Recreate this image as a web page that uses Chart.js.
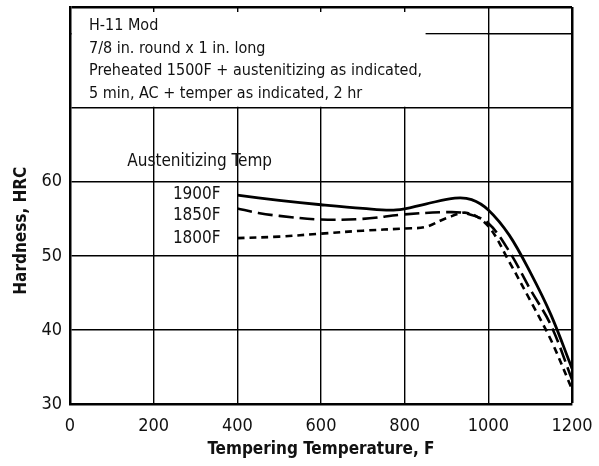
<!DOCTYPE html>
<html lang="en">
<head>
    <meta charset="UTF-8">
    <title>H-11 Mod tempering curves</title>
    <style>
        body {
            margin: 0;
            background: #fff;
        }
        .chart-container {
            width: 599px;
            height: 466px;
        }
    </style>
</head>
<body>
    <div class="chart-container">
        <canvas id="hardnessChart"></canvas>
    </div>

    <script src="https://cdn.jsdelivr.net/npm/chart.js"></script>

    <script>
        // Tempering temperature (F) and hardness (HRC)
        const temps1900 = [400, 500, 600, 700, 780, 850, 920, 960, 1000, 1050, 1100, 1150, 1200];
        const hrc1900   = [58.2, 57.5, 56.9, 56.4, 56.2, 57.0, 57.8, 57.6, 56.2, 52.8, 47.8, 42.0, 34.8];

        const temps1850 = [400, 450, 500, 600, 700, 800, 900, 950, 1000, 1050, 1100, 1150, 1200];
        const hrc1850   = [56.4, 55.8, 55.4, 54.9, 55.0, 55.6, 55.9, 55.7, 54.4, 50.6, 45.5, 40.6, 33.3];

        const temps1800 = [400, 500, 600, 700, 800, 850, 900, 950, 1000, 1050, 1100, 1150, 1200];
        const hrc1800   = [52.4, 52.6, 53.0, 53.4, 53.7, 53.9, 55.1, 55.8, 54.0, 49.2, 44.0, 38.6, 32.0];

        const seriesLabels = ['1900F', '1850F', '1800F'];
        const xTicks = [0, 200, 400, 600, 800, 1000, 1200];
        const yTicks = [30, 40, 50, 60, 70, 80, 83.6];

        const headerLines = [
            'H-11 Mod',
            '7/8 in. round x 1 in. long',
            'Preheated 1500F + austenitizing as indicated,',
            '5 min, AC + temper as indicated, 2 hr'
        ];

        const FONT = "'Liberation Sans Narrow', 'DejaVu Sans Condensed', Arial, sans-serif";

        function toPoints(xs, ys) {
            return xs.map((x, i) => ({ x: x, y: ys[i] }));
        }

        function noPadding(s) {
            s.paddingTop = 0;
            s.paddingBottom = 0;
            s.paddingLeft = 0;
            s.paddingRight = 0;
        }

        // white out most of the note box above 70 HRC and write the labels
        const notesPlugin = {
            id: 'notes',
            beforeDatasetsDraw(chart) {
                const ctx = chart.ctx;
                const area = chart.chartArea;
                const xs = chart.scales.x;
                const ys = chart.scales.y;
                const y70 = ys.getPixelForValue(70);
                const y80 = ys.getPixelForValue(80);
                const x1000 = xs.getPixelForValue(1000);
                const x850 = xs.getPixelForValue(850);
                ctx.save();
                ctx.fillStyle = '#fff';
                ctx.fillRect(area.left + 2, area.top + 5, x1000 - area.left - 3, y80 - area.top - 6);
                ctx.fillRect(area.left + 2, y80 + 1, x1000 - area.left - 3, y70 - y80 - 2);
                ctx.fillRect(area.left + 2, y80 - 2, x850 - area.left - 2, 4);
                ctx.restore();
            },
            afterDraw(chart) {
                const ctx = chart.ctx;
                const area = chart.chartArea;
                const xs = chart.scales.x;
                const ys = chart.scales.y;
                ctx.save();
                ctx.fillStyle = '#111';
                ctx.textBaseline = 'alphabetic';
                ctx.font = '16px ' + FONT;
                ctx.textAlign = 'left';
                headerLines.forEach((line, i) => {
                    ctx.fillText(line, area.left + 19, 30 + i * 22.5);
                });

                ctx.font = '17px ' + FONT;
                ctx.textBaseline = 'middle';
                ctx.textAlign = 'center';
                ctx.fillText('Austenitizing Temp', xs.getPixelForValue(310), ys.getPixelForValue(62.7));

                ctx.textAlign = 'right';
                const labelY = [58.3, 55.4, 52.4];
                seriesLabels.forEach((lab, i) => {
                    ctx.fillText(lab, xs.getPixelForValue(360), ys.getPixelForValue(labelY[i]));
                });

                // y axis title sits a bit below the middle in the original
                ctx.font = 'bold 17px ' + FONT;
                ctx.textAlign = 'center';
                ctx.translate(22, ys.getPixelForValue(53.4));
                ctx.rotate(-Math.PI / 2);
                ctx.fillText('Hardness, HRC', 0, 0);
                ctx.restore();
            }
        };

        const ctx = document.getElementById('hardnessChart').getContext('2d');

        new Chart(ctx, {
            type: 'line',
            data: {
                datasets: [{
                    label: seriesLabels[0],
                    data: toPoints(temps1900, hrc1900),
                    borderColor: '#000',
                    borderWidth: 2.8
                }, {
                    label: seriesLabels[1],
                    data: toPoints(temps1850, hrc1850),
                    borderColor: '#000',
                    borderWidth: 2.6,
                    borderDash: [15, 6]
                }, {
                    label: seriesLabels[2],
                    data: toPoints(temps1800, hrc1800),
                    borderColor: '#000',
                    borderWidth: 2.6,
                    borderDash: [7, 5]
                }]
            },
            options: {
                responsive: true,
                maintainAspectRatio: false,
                animation: false,
                layout: {
                    padding: { left: 0, right: 27, top: 7, bottom: 0 }
                },
                elements: {
                    point: { radius: 0 },
                    line: { tension: 0.35, fill: false }
                },
                plugins: {
                    legend: { display: false },
                    tooltip: { enabled: false }
                },
                scales: {
                    x: {
                        type: 'linear',
                        min: 0,
                        max: 1200,
                        afterBuildTicks: s => { s.ticks = xTicks.map(v => ({ value: v })); },
                        afterFit: s => { s.height = 62; noPadding(s); },
                        ticks: {
                            color: '#111',
                            font: { family: FONT, size: 18 },
                            padding: 12,
                            maxRotation: 0,
                            callback: v => String(v)
                        },
                        grid: {
                            color: '#000',
                            lineWidth: c => (c.tick && c.tick.value === 1200 ? 2.5 : 1.4),
                            drawTicks: false
                        },
                        border: { color: '#000', width: 2.5 },
                        title: {
                            display: true,
                            text: 'Tempering Temperature, F',
                            color: '#111',
                            font: { family: FONT, size: 17, weight: 'bold' },
                            padding: { top: 0, bottom: 6 }
                        }
                    },
                    y: {
                        type: 'linear',
                        min: 30,
                        max: 83.6,
                        afterBuildTicks: s => { s.ticks = yTicks.map(v => ({ value: v })); },
                        afterFit: s => { s.width = 70; noPadding(s); },
                        ticks: {
                            color: '#111',
                            font: { family: FONT, size: 18 },
                            padding: 8,
                            callback: v => (v <= 60 ? String(v) : '')
                        },
                        grid: {
                            color: '#000',
                            lineWidth: c => (c.tick && c.tick.value === 83.6 ? 2.5 : 1.4),
                            drawTicks: false
                        },
                        border: { color: '#000', width: 2.5 }
                    }
                }
            },
            plugins: [notesPlugin]
        });
    </script>
</body>
</html>
